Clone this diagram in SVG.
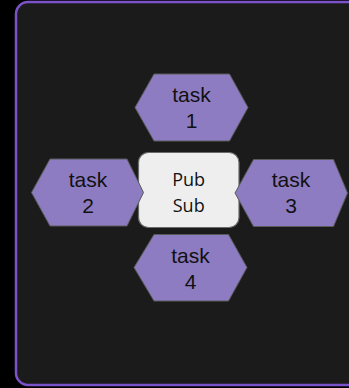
<svg xmlns="http://www.w3.org/2000/svg" width="349" height="388" viewBox="0 0 349 388">
  <style>
    .frame { fill: #1b1b1b; stroke: #7b52c9; stroke-width: 2.5; }
    .task { fill: #8e7cc3; stroke: #5a5a5a; stroke-width: 1; }
    .hub { fill: #eeeeee; stroke: #6a6a6a; stroke-width: 1.2; }
    .tlabel { font-family: "Liberation Sans", Arial, sans-serif; font-size: 21px; fill: #111111; text-anchor: middle; }
    .hlabel { font-family: "Open Sans", "Noto Sans", sans-serif; font-size: 18px; fill: #111111; text-anchor: middle; }
  </style>
  <rect x="0" y="0" width="349" height="388" fill="#000000"/>
  <rect class="frame" x="16" y="2" width="370" height="383" rx="12" ry="12"/>

  <g id="connectors"></g>

  <!-- central hub sits underneath the task hexagons, whose tips overlap its sides -->
  <g id="pubsub">
    <rect class="hub" x="138.5" y="152.5" width="100.5" height="75" rx="10" ry="10"/>
    <text class="hlabel" x="188.7" y="186">Pub</text>
    <text class="hlabel" x="188.7" y="211.7">Sub</text>
  </g>

  <g id="task1">
    <polygon class="task" points="135,107.5 154,74 229.5,74 248,107.5 229.5,141 154,141"/>
    <text class="tlabel" x="191.5" y="101.7">task</text>
    <text class="tlabel" x="191.5" y="127.7">1</text>
  </g>
  <g id="task2">
    <polygon class="task" points="31.5,192.5 50,159 127,159 143.5,192.5 127,226 50,226"/>
    <text class="tlabel" x="88" y="186.7">task</text>
    <text class="tlabel" x="88" y="212.7">2</text>
  </g>
  <g id="task3">
    <polygon class="task" points="235,193 253.5,159.5 333.5,159.5 347.5,193 333.5,226.5 253.5,226.5"/>
    <text class="tlabel" x="291" y="187">task</text>
    <text class="tlabel" x="291" y="213.3">3</text>
  </g>
  <g id="task4">
    <polygon class="task" points="134,267.5 154,234.5 228.5,234.5 247,267.5 228.5,301 154,301"/>
    <text class="tlabel" x="190.5" y="263.3">task</text>
    <text class="tlabel" x="190.5" y="289">4</text>
  </g>
</svg>
